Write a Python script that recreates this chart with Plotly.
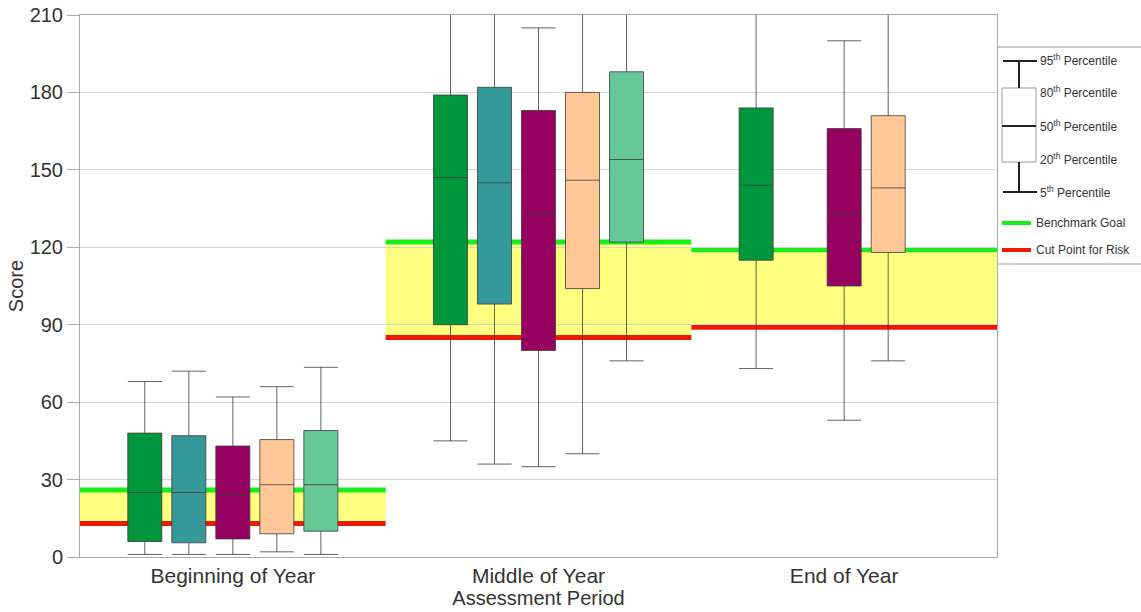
import plotly.graph_objects as go

categories = ["Beginning of Year", "Middle of Year", "End of Year"]

# Box statistics per series: 5th, 20th, 50th, 80th, 95th percentiles
series_names = ["Series A", "Series B", "Series C", "Series D", "Series E"]
series_colors = ["#00963c", "#35999a", "#96005f", "#ffc896", "#66c896"]
series_cats = [
    ["Beginning of Year", "Middle of Year", "End of Year"],
    ["Beginning of Year", "Middle of Year"],
    ["Beginning of Year", "Middle of Year", "End of Year"],
    ["Beginning of Year", "Middle of Year", "End of Year"],
    ["Beginning of Year", "Middle of Year"],
]
p05 = [[1, 45, 73], [1, 36], [1, 35, 53], [2, 40, 76], [1, 76]]
p20 = [[6, 90, 115], [5.5, 98], [7, 80, 105], [9, 104, 118], [10, 122]]
p50 = [[25, 147, 144], [25, 145], [24, 133, 133], [28, 146, 143], [28, 154]]
p80 = [[48, 179, 174], [47, 182], [43, 173, 166], [45.5, 180, 171], [49, 188]]
p95 = [[68, 226, 228], [72, 230], [62, 205, 200], [66, 224, 226], [73.5, 232]]

benchmark_goal = [26, 122, 119]
risk_cut = [13, 85, 89]

y_ticks = [0, 30, 60, 90, 120, 150, 180, 210]
legend_labels = ["95<sup>th</sup> Percentile", "80<sup>th</sup> Percentile",
                 "50<sup>th</sup> Percentile", "20<sup>th</sup> Percentile",
                 "5<sup>th</sup> Percentile", "Benchmark Goal", "Cut Point for Risk"]

W, H = 1141, 612
PL, PR, PT, PB = 80, 997, 15, 557          # plot area in window pixels
L, T, R, B = PL, PT, W - PR, H - PB
pw, ph = PR - PL, PB - PT


def px(x):
    return (x - PL) / pw


def py(y):
    return (PB - y) / ph


fig = go.Figure()
for name, color, cats, a, b, c, d, e in zip(series_names, series_colors, series_cats,
                                            p05, p20, p50, p80, p95):
    fig.add_trace(go.Box(
        name=name, x=cats, lowerfence=a, q1=b, median=c, q3=d, upperfence=e,
        fillcolor=color, line=dict(color="rgba(60,60,60,0.8)", width=1),
        whiskerwidth=1, showlegend=False, hoverinfo="skip",
    ))

shapes = []
for i, (g, r) in enumerate(zip(benchmark_goal, risk_cut)):
    shapes.append(dict(type="rect", xref="x", yref="y", x0=i - 0.5, x1=i + 0.5, y0=r, y1=g,
                       fillcolor="#ffff80", line=dict(width=0), layer="below"))
    shapes.append(dict(type="line", xref="x", yref="y", x0=i - 0.5, x1=i + 0.5, y0=g, y1=g,
                       line=dict(color="#1aee1a", width=5), layer="below"))
    shapes.append(dict(type="line", xref="x", yref="y", x0=i - 0.5, x1=i + 0.5, y0=r, y1=r,
                       line=dict(color="#ee1a00", width=5), layer="below"))

# custom legend (paper coordinates)
gray = "#999999"
blk = "#222222"
shapes += [
    dict(type="line", xref="paper", yref="paper", x0=px(997), x1=px(1141), y0=py(47), y1=py(47),
         line=dict(color=gray, width=1)),
    dict(type="line", xref="paper", yref="paper", x0=px(997), x1=px(1141), y0=py(264), y1=py(264),
         line=dict(color=gray, width=1)),
    dict(type="rect", xref="paper", yref="paper", x0=px(1002), x1=px(1036), y0=py(162), y1=py(88),
         line=dict(color=gray, width=1), fillcolor="white"),
    dict(type="line", xref="paper", yref="paper", x0=px(1019), x1=px(1019), y0=py(61), y1=py(88),
         line=dict(color=blk, width=2)),
    dict(type="line", xref="paper", yref="paper", x0=px(1019), x1=px(1019), y0=py(162), y1=py(192),
         line=dict(color=blk, width=2)),
    dict(type="line", xref="paper", yref="paper", x0=px(1003), x1=px(1037), y0=py(61), y1=py(61),
         line=dict(color=blk, width=2)),
    dict(type="line", xref="paper", yref="paper", x0=px(1002), x1=px(1036), y0=py(126), y1=py(126),
         line=dict(color=blk, width=2)),
    dict(type="line", xref="paper", yref="paper", x0=px(1003), x1=px(1037), y0=py(192), y1=py(192),
         line=dict(color=blk, width=2)),
    dict(type="line", xref="paper", yref="paper", x0=px(1002), x1=px(1031), y0=py(223), y1=py(223),
         line=dict(color="#1aee1a", width=4)),
    dict(type="line", xref="paper", yref="paper", x0=px(1002), x1=px(1031), y0=py(250), y1=py(250),
         line=dict(color="#ee1a00", width=4)),
]

label_pos = [(1038, 60), (1038, 92), (1038, 126), (1038, 159), (1038, 192), (1034, 223), (1034, 250)]
annotations = []
for txt, (x, y) in zip(legend_labels, label_pos):
    annotations.append(dict(text=txt, xref="paper", yref="paper", x=px(x), y=py(y),
                            xanchor="left", yanchor="middle", showarrow=False,
                            font=dict(size=12, color="#333333")))

fig.update_layout(
    width=W, height=H, margin=dict(l=L, r=R, t=T, b=B),
    paper_bgcolor="white", plot_bgcolor="white",
    boxmode="group", boxgap=0.28, boxgroupgap=0.227,
    font=dict(family="Liberation Sans, Arial, sans-serif", color="#333333"),
    shapes=shapes, annotations=annotations, showlegend=False,
)
fig.update_xaxes(
    categoryorder="array", categoryarray=categories, range=[-0.5, 2.5], automargin=False,
    showline=True, linecolor="#aaaaaa", linewidth=1, mirror=True,
    showgrid=False, ticks="", tickfont=dict(size=21),
    title=dict(text="Assessment Period", font=dict(size=20), standoff=3),
)
fig.update_yaxes(
    range=[0, 210], tickvals=y_ticks, showline=True, linecolor="#aaaaaa", linewidth=1,
    mirror=True, showgrid=True, gridcolor="#d4d4d4", gridwidth=1, zeroline=False,
    automargin=False, ticks="outside", ticklen=12, tickcolor="#aaaaaa", tickfont=dict(size=20),
    ticklabeloverflow="allow",
    title=dict(text="Score", font=dict(size=20), standoff=0),
)

fig.write_html("out.html", config={"displayModeBar": False},
               post_script="document.body.style.margin='0px';")
